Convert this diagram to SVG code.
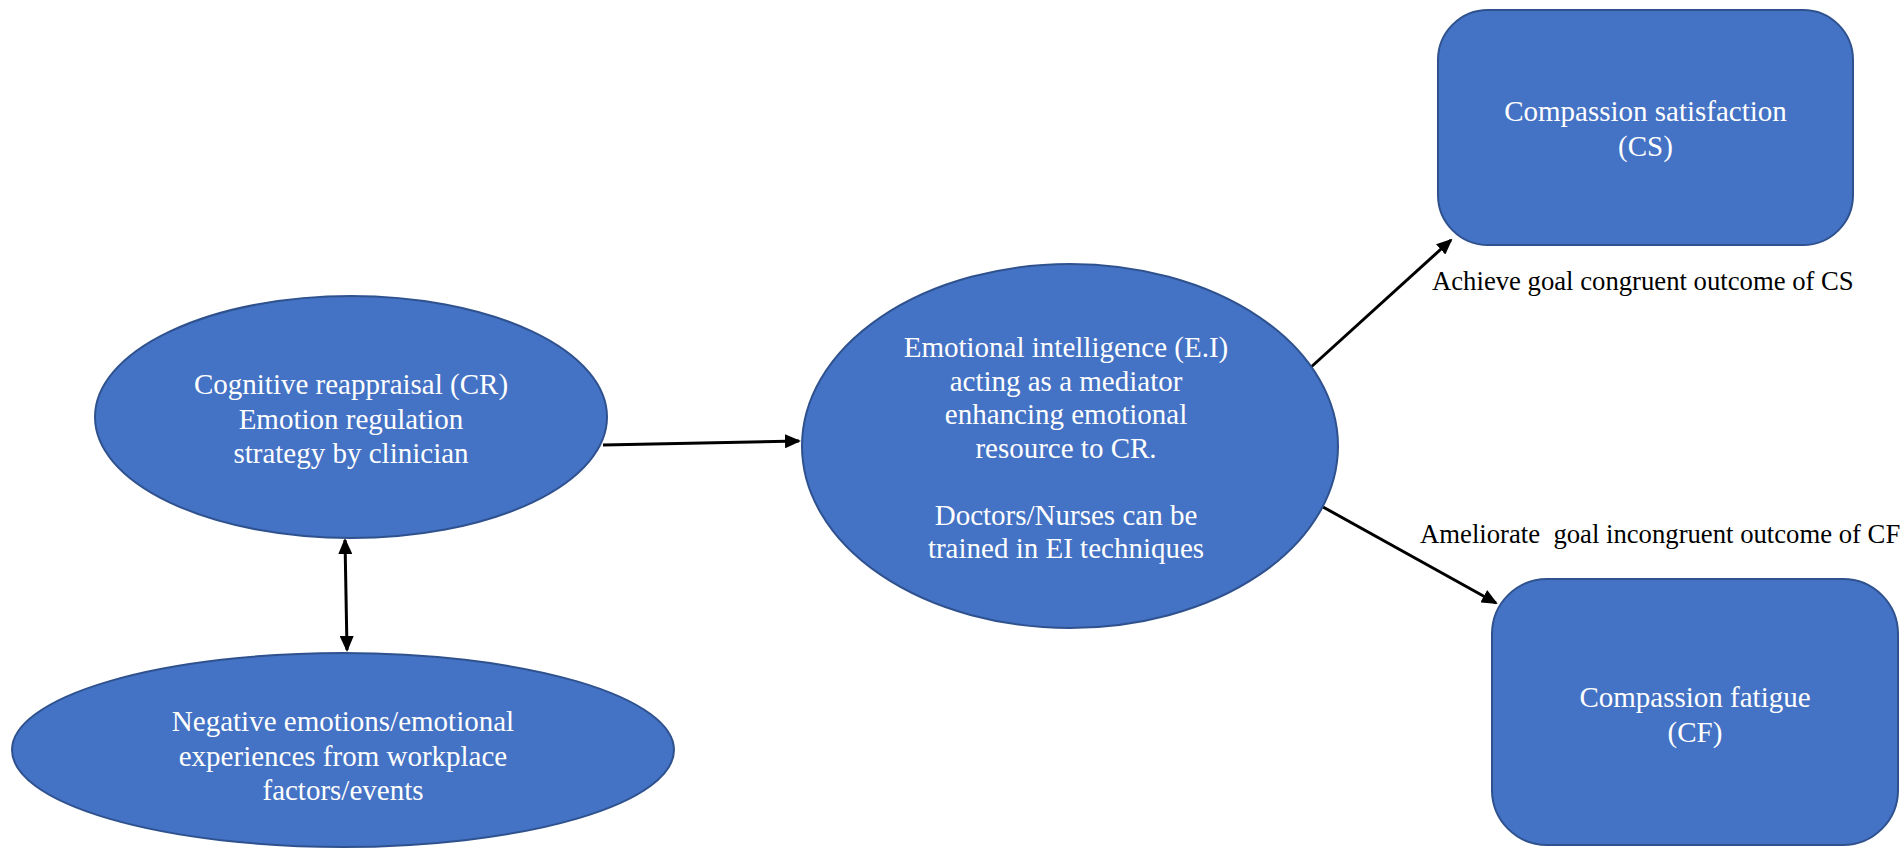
<svg xmlns="http://www.w3.org/2000/svg" width="1902" height="849" viewBox="0 0 1902 849">
  <style>
    .node { fill: #4472C4; stroke: #2F528F; stroke-width: 2; }
    .ntext { fill: #FFFFFF; font-family: "Liberation Serif", "Times New Roman", serif; font-size: 29px; text-anchor: middle; }
    .label { fill: #000000; font-family: "Liberation Serif", "Times New Roman", serif; font-size: 26.7px; }
    .conn { stroke: #000000; stroke-width: 3; fill: none; }
  </style>
  <defs>
    <marker id="arrow" markerUnits="userSpaceOnUse" viewBox="0 0 16 14" markerWidth="16" markerHeight="14" refX="14" refY="7" orient="auto-start-reverse">
      <path d="M0,0 L16,7 L0,14 z" fill="#000000"/>
    </marker>
  </defs>

  <rect width="1902" height="849" fill="#FFFFFF"/>

  <!-- connectors -->
  <g id="connectors">
    <line class="conn" x1="603" y1="445" x2="799" y2="441" marker-end="url(#arrow)"/>
    <line class="conn" x1="345" y1="540" x2="347" y2="650" marker-start="url(#arrow)" marker-end="url(#arrow)"/>
    <line class="conn" x1="1310" y1="368" x2="1451" y2="240" marker-end="url(#arrow)"/>
    <line class="conn" x1="1323" y1="507" x2="1496" y2="603" marker-end="url(#arrow)"/>
  </g>

  <!-- cognitive reappraisal -->
  <g id="node-cr">
    <ellipse class="node" cx="351" cy="417" rx="256" ry="121"/>
    <text class="ntext" x="351" y="394">Cognitive reappraisal (CR)</text>
    <text class="ntext" x="351" y="428.5">Emotion regulation</text>
    <text class="ntext" x="351" y="463">strategy by clinician</text>
  </g>

  <!-- negative emotions -->
  <g id="node-negative">
    <ellipse class="node" cx="343" cy="750" rx="331" ry="97"/>
    <text class="ntext" x="343" y="731">Negative emotions/emotional</text>
    <text class="ntext" x="343" y="765.5">experiences from workplace</text>
    <text class="ntext" x="343" y="800">factors/events</text>
  </g>

  <!-- emotional intelligence -->
  <g id="node-ei">
    <ellipse class="node" cx="1070" cy="446" rx="268" ry="182"/>
    <text class="ntext" x="1066" y="357">Emotional intelligence (E.I)</text>
    <text class="ntext" x="1066" y="390.5">acting as a mediator</text>
    <text class="ntext" x="1066" y="424">enhancing emotional</text>
    <text class="ntext" x="1066" y="457.5">resource to CR.</text>
    <text class="ntext" x="1066" y="524.5">Doctors/Nurses can be</text>
    <text class="ntext" x="1066" y="558">trained in EI techniques</text>
  </g>

  <!-- compassion satisfaction -->
  <g id="node-cs">
    <rect class="node" x="1438" y="10" width="415" height="235" rx="50" ry="50"/>
    <text class="ntext" x="1645.5" y="121">Compassion satisfaction</text>
    <text class="ntext" x="1645.5" y="156">(CS)</text>
  </g>

  <!-- compassion fatigue -->
  <g id="node-cf">
    <rect class="node" x="1492" y="579" width="406" height="266" rx="55" ry="55"/>
    <text class="ntext" x="1695" y="707">Compassion fatigue</text>
    <text class="ntext" x="1695" y="742">(CF)</text>
  </g>

  <!-- connector labels -->
  <g id="labels">
    <text class="label" x="1432" y="290">Achieve goal congruent outcome of CS</text>
    <text class="label" x="1420" y="543" xml:space="preserve">Ameliorate  goal incongruent outcome of CF</text>
  </g>
</svg>
